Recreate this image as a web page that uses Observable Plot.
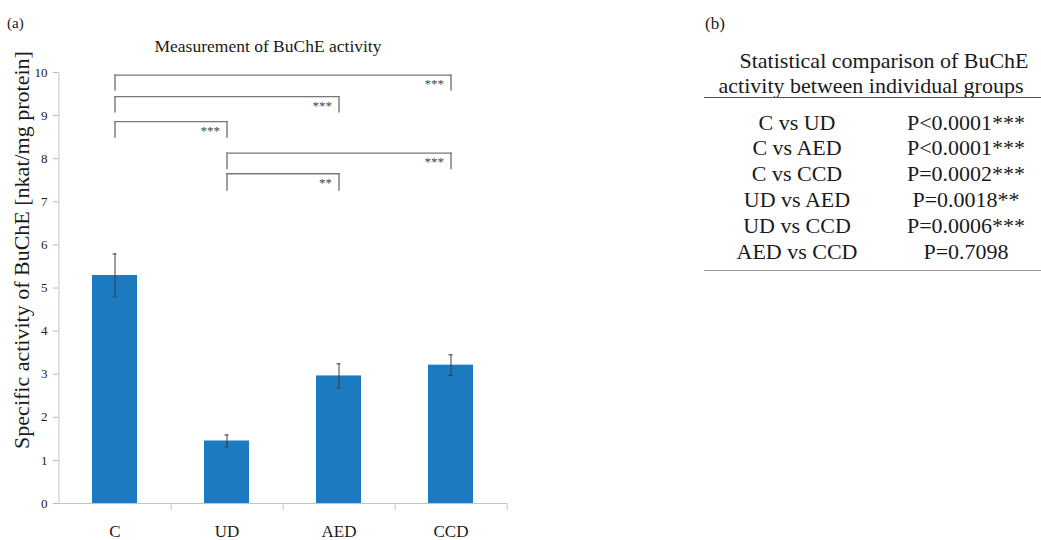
<!DOCTYPE html>
<html>
<head>
<meta charset="utf-8">
<script src="https://cdn.jsdelivr.net/npm/d3@7"></script>
<script src="https://cdn.jsdelivr.net/npm/@observablehq/plot@0.6"></script>
<style>
html, body { margin: 0; padding: 0; background: #fff; }
#root { position: relative; width: 1041px; height: 540px; overflow: hidden; font-family: "Liberation Serif", serif; color: #1a1a1a; }
#root svg { position: absolute; left: 0; top: 0; }
.lbl { position: absolute; white-space: nowrap; }
.rule { position: absolute; height: 0; }
</style>
</head>
<body>
<div id="root"></div>
<script>
// ---- data ----
const groups = ["C", "UD", "AED", "CCD"];
const activity = [5.29, 1.45, 2.96, 3.21];
const errors = [0.50, 0.14, 0.28, 0.24];
const yTicks = [0, 1, 2, 3, 4, 5, 6, 7, 8, 9, 10];

const bracketFrom = ["C", "C", "C", "UD", "UD"];
const bracketTo = ["CCD", "AED", "UD", "CCD", "AED"];
const bracketTop = [9.94, 9.44, 8.86, 8.13, 7.65];
const bracketLeg = [9.59, 9.09, 8.50, 7.77, 7.27];
const bracketStars = ["***", "***", "***", "***", "**"];

const comparisons = ["C vs UD", "C vs AED", "C vs CCD", "UD vs AED", "UD vs CCD", "AED vs CCD"];
const pValues = ["P<0.0001***", "P<0.0001***", "P=0.0002***", "P=0.0018**", "P=0.0006***", "P=0.7098"];

const chartTitle = "Measurement of BuChE activity";
const yLabel = "Specific activity of BuChE [nkat/mg protein]";
const tableTitle = ["Statistical comparison of BuChE", "activity between individual groups"];

// ---- build ----
const bars = groups.map((g, i) => ({g, v: activity[i], e: errors[i]}));
const brackets = bracketFrom.map((f, i) => ({from: f, to: bracketTo[i], top: bracketTop[i], leg: bracketLeg[i], stars: bracketStars[i]}));
const segments = brackets.flatMap(b => [
  {x1: b.from, x2: b.to, y1: b.top, y2: b.top},
  {x1: b.from, x2: b.from, y1: b.top, y2: b.leg},
  {x1: b.to, x2: b.to, y1: b.top, y2: b.leg}
]);

const W = 520, H = 540, mL = 58, mR = 13, mT = 72, mB = 37;
const step = (W - mL - mR) / groups.length;

const chart = Plot.plot({
  width: W, height: H,
  marginLeft: mL, marginRight: mR, marginTop: mT, marginBottom: mB,
  style: {fontFamily: "Liberation Serif, serif", color: "#1a1a1a", background: "transparent"},
  x: {type: "band", domain: groups, paddingInner: 0.6, paddingOuter: 0.3, label: null},
  y: {domain: [0, 10], label: null},
  marks: [
    Plot.barY(bars, {x: "g", y: "v", fill: "#1c7bc0"}),
    Plot.ruleY([0], {stroke: "#c4c4c4"}),
    Plot.ruleX([groups[0]], {x: d => d, dx: -step / 2, y1: 0, y2: 10, stroke: "#c4c4c4"}),
    Plot.ruleX(groups, {x: d => d, dx: step / 2, y1: 0, y2: -0.16, stroke: "#c4c4c4"}),
    Plot.ruleX(bars, {x: "g", y1: d => d.v - d.e, y2: d => d.v + d.e, stroke: "#3a3a48", strokeWidth: 1}),
    Plot.tickY(bars, {x: "g", y: d => d.v + d.e, insetLeft: 20.5, insetRight: 20.5, stroke: "#3a3a48"}),
    Plot.tickY(bars, {x: "g", y: d => d.v - d.e, insetLeft: 20.5, insetRight: 20.5, stroke: "#3a3a48"}),
    Plot.link(segments, {x1: "x1", x2: "x2", y1: "y1", y2: "y2", stroke: "#777", strokeWidth: 1.4, strokeLinecap: "square"}),
    Plot.text(brackets, {x: "to", y: "top", text: "stars", textAnchor: "end", dx: -7, dy: 9, fontSize: 13, fill: "#444"}),
    Plot.axisY({ticks: yTicks, tickSize: 5, tickPadding: 6, fontSize: 13, stroke: "#b8b8b8", fill: "#222", label: null}),
    Plot.axisX({tickSize: 0, tickPadding: 21, fontSize: 17, fill: "#1a1a1a", label: null})
  ]
});

const root = document.getElementById("root");
root.appendChild(chart);

// text helper: place text with given baseline
function place(text, x, baseline, size, anchor = "middle") {
  const d = document.createElement("div");
  d.className = "lbl";
  d.textContent = text;
  d.style.fontSize = size + "px";
  d.style.lineHeight = size + "px";
  d.style.top = (baseline - 0.8375 * size) + "px";
  d.style.left = x + "px";
  if (anchor === "middle") d.style.transform = "translateX(-50%)";
  else if (anchor === "end") d.style.transform = "translateX(-100%)";
  root.appendChild(d);
  return d;
}

place("(a)", 7, 29, 15, "start");
place(chartTitle, 268, 52.5, 17.5, "middle");

// rotated y label
const yl = document.createElement("div");
yl.className = "lbl";
yl.textContent = yLabel;
yl.style.fontSize = "22px";
yl.style.lineHeight = "22px";
yl.style.left = "22px";
yl.style.top = "250px";
yl.style.transform = "translate(-50%, -50%) rotate(-90deg)";
root.appendChild(yl);

// panel (b)
place("(b)", 705, 29, 17, "start");
place(tableTitle[0], 884, 68.5, 22, "middle");
place(tableTitle[1], 871, 93, 22, "middle");

function hrule(x1, x2, y, color, w) {
  const r = document.createElement("div");
  r.className = "rule";
  r.style.left = x1 + "px";
  r.style.width = (x2 - x1) + "px";
  r.style.top = y + "px";
  r.style.borderTop = w + "px solid " + color;
  root.appendChild(r);
}
hrule(704, 1041, 97, "#555", 1.5);
comparisons.forEach((c, i) => {
  const base = 130 + i * 25.8;
  place(c, 797, base, 22, "middle");
  place(pValues[i], 966, base, 22, "middle");
});
hrule(704, 1041, 269.5, "#999", 1.5);
</script>
</body>
</html>
